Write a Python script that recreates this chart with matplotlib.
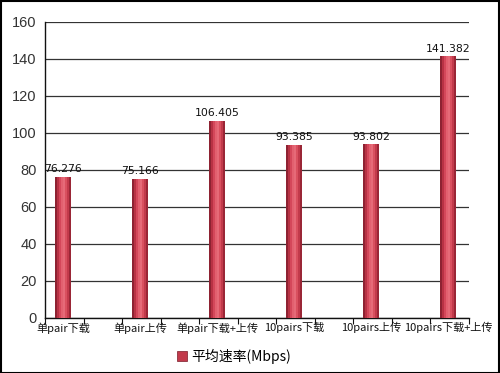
import numpy as np
import matplotlib.pyplot as plt
from matplotlib.patches import Rectangle

categories = ['单pair下载', '单pair上传', '单pair下载+上传', '10pairs下载', '10pairs上传', '10pairs下载+上传']
speeds = [76.276, 75.166, 106.405, 93.385, 93.802, 141.382]
series_name = '平均速率(Mbps)'

plt.rcParams['font.family'] = ['Noto Sans CJK SC', 'DejaVu Sans']

fig = plt.figure(figsize=(5, 3.73), dpi=100)
ax = fig.add_axes([0.09, 0.1475, 0.848, 0.794])

x = np.arange(len(categories))
w = 0.207
# cylinder look: draw each bar as thin vertical slices
shade = ['#8e2232', '#b83244', '#d4475a', '#e2606f', '#e66a78', '#d9505f', '#c23a4b', '#9a2636']
n = len(shade)
for k, c in enumerate(shade):
    off = -w / 2 + (k + 0.5) * w / n
    ax.bar(x + off, speeds, width=w / n, color=c, linewidth=0, zorder=3)

for xi, v in zip(x, speeds):
    ax.text(xi, v + 1.5, f'{v:.3f}', ha='center', va='bottom', fontsize=7.8,
            family='DejaVu Sans', color='#111111', zorder=4)

ax.set_xlim(-0.233, 5.26)
ax.set_ylim(0, 160)
ax.set_yticks(np.arange(0, 161, 20))
ax.yaxis.grid(True, color='#333333', lw=0.9)
ax.set_axisbelow(True)
for t in ax.get_yticklabels():
    t.set_family('Liberation Sans')
    t.set_fontsize(10.5)
    t.set_color('#333333')
ax.tick_params(axis='y', length=0, pad=6)

ax.set_xticks(-0.233 + 0.5 * np.arange(12))
ax.set_xticklabels([])
ax.tick_params(axis='x', which='major', length=4, direction='out', color='#111111')
ax.set_xticks(x, minor=True)
ax.set_xticklabels(categories, minor=True, fontsize=8, color='#111111')
ax.tick_params(axis='x', which='minor', length=0, pad=3)

for s in ['top', 'right']:
    ax.spines[s].set_visible(False)
for s in ['left', 'bottom']:
    ax.spines[s].set_color('#111111')
    ax.spines[s].set_linewidth(1)

h = ax.bar([0], [0], color='#c23a4b', edgecolor='#7a1a28', linewidth=0.5, label=series_name)
fig.legend(handles=[h], labels=[series_name], loc='center', bbox_to_anchor=(0.468, 0.045),
           frameon=False, fontsize=10, handlelength=0.7, handleheight=0.7, handletextpad=0.3)

fig.patches.append(Rectangle((0.001, 0.001), 0.997, 0.997, transform=fig.transFigure,
                             fill=False, edgecolor='black', linewidth=1.5))

fig.savefig('out.png', dpi=100)
